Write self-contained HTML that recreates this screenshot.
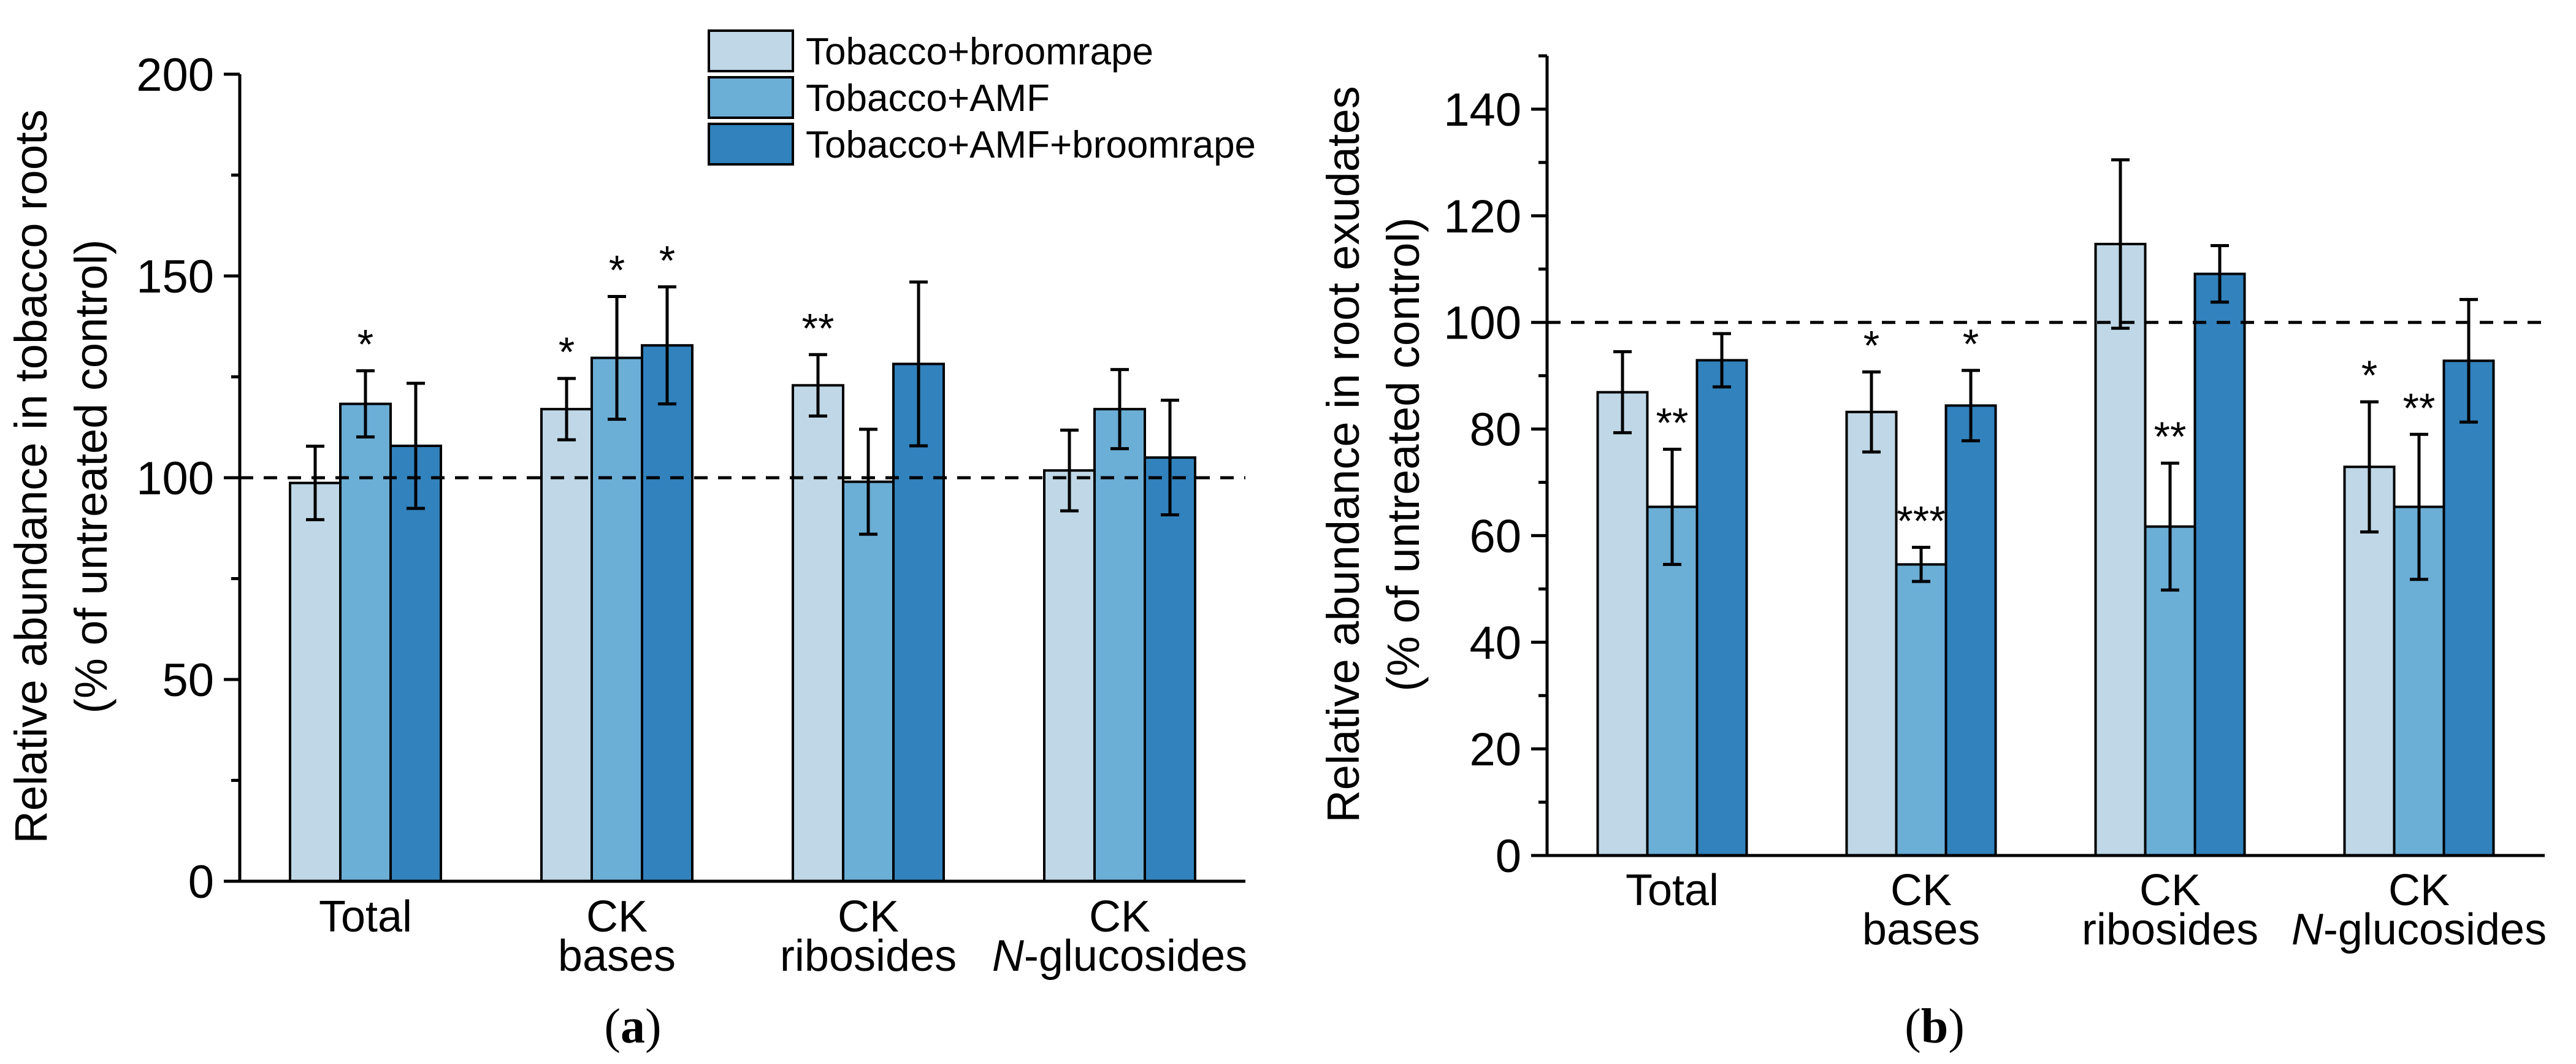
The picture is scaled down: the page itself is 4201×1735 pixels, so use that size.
<!DOCTYPE html>
<html><head><meta charset="utf-8"><style>
html,body{margin:0;padding:0;background:#fff}
svg{display:block}
text{font-family:"Liberation Sans",Arial,sans-serif;fill:#000}
</style></head><body>
<svg id="fig" width="4201" height="1735" viewBox="0 0 4201 1735" xmlns="http://www.w3.org/2000/svg">
<g id="panelA"></g>
<g id="panelB"></g>
<g id="legend"></g>
</svg>
<script>
// ---- data ----
const categories = ["Total", "CK|bases", "CK|ribosides", "CK|N-glucosides"];
const seriesNames = ["Tobacco+broomrape", "Tobacco+AMF", "Tobacco+AMF+broomrape"];
const seriesColors = ["#BFD7E6", "#6BAED6", "#3182BD"];

// panel a (roots)
const aBroomrape = [98.7, 117.0, 122.9, 101.8];
const aBroomrapeErr = [9.1, 7.6, 7.6, 10.0];
const aAMF = [118.3, 129.7, 99.0, 117.0];
const aAMFErr = [8.2, 15.2, 13.0, 9.8];
const aAMFBroomrape = [107.9, 132.8, 128.2, 105.0];
const aAMFBroomrapeErr = [15.5, 14.5, 20.3, 14.2];
const aStars = [["", "*", ""], ["*", "*", "*"], ["**", "", ""], ["", "", ""]];
const aTicks = [0, 50, 100, 150, 200];

// panel b (exudates)
const bBroomrape = [86.9, 83.2, 114.7, 72.9];
const bBroomrapeErr = [7.6, 7.5, 15.8, 12.2];
const bAMF = [65.4, 54.6, 61.7, 65.4];
const bAMFErr = [10.8, 3.2, 11.9, 13.6];
const bAMFBroomrape = [92.9, 84.4, 109.1, 92.8];
const bAMFBroomrapeErr = [5.0, 6.6, 5.3, 11.5];
const bStars = [["", "**", ""], ["*", "***", "*"], ["", "**", ""], ["*", "**", ""]];
const bTicks = [0, 20, 40, 60, 80, 100, 120, 140];

const NS = "http://www.w3.org/2000/svg";
function mk(parent, tag, attrs, txt) {
  const e = document.createElementNS(NS, tag);
  for (const k in attrs) e.setAttribute(k, attrs[k]);
  if (txt !== undefined) e.textContent = txt;
  parent.appendChild(e);
  return e;
}

function drawPanel(g, cfg) {
  const y = v => cfg.y0 - (v - 0) / cfg.ymax * (cfg.y0 - cfg.yTop);
  const series = [cfg.s1, cfg.s2, cfg.s3];
  const errs = [cfg.e1, cfg.e2, cfg.e3];
  categories.forEach((c, ci) => {
    const cx = cfg.firstCenter + ci * cfg.spacing;
    series.forEach((s, si) => {
      const x = cx + (si - 1.5) * cfg.bw;
      const r = mk(g, "rect", {x: x, y: y(s[ci]), width: cfg.bw, height: cfg.y0 - y(s[ci]), fill: seriesColors[si], stroke: "#000", "stroke-width": 4});
      
      
    });
  });
  const dl = mk(g, "line", {x1: cfg.ax, x2: cfg.axEnd, y1: y(100), y2: y(100), stroke: "#000", "stroke-width": 5, "stroke-dasharray": "22,17"});
  
  
  categories.forEach((c, ci) => {
    const cx = cfg.firstCenter + ci * cfg.spacing;
    series.forEach((s, si) => {
      const xm = cx + (si - 1) * cfg.bw;
      const hi = y(s[ci] + errs[si][ci]), lo = y(s[ci] - errs[si][ci]);
      const eb = mk(g, "path", {d: `M${xm},${hi}V${lo}M${xm-15},${hi}H${xm+15}M${xm-15},${lo}H${xm+15}`, stroke: "#000", "stroke-width": 5, fill: "none"});
      
      
      const st = cfg.stars[ci][si];
      if (st) {
        const t = mk(g, "text", {x: xm, y: hi - 20, "text-anchor": "middle", "font-size": 68}, st);
        
        
      }
    });
  });
  const ax = mk(g, "path", {d: `M${cfg.ax},${cfg.yTopAxis}V${cfg.y0}H${cfg.axEnd}`, stroke: "#000", "stroke-width": 5, fill: "none"});
  
  
  const step = cfg.ticks[1] - cfg.ticks[0];
  for (let v = 0; v <= cfg.axisMax + 0.001; v += step / 2) {
    const major = cfg.ticks.includes(v);
    const tk = mk(g, "line", {x1: cfg.ax - (major ? 26 : 14), x2: cfg.ax, y1: y(v), y2: y(v), stroke: "#000", "stroke-width": 5});
    
    
  }
  cfg.ticks.forEach(v => {
    const t = mk(g, "text", {x: cfg.ax - 42, y: y(v) + 27, "text-anchor": "end", "font-size": 76}, String(v));
    
    
  });
  categories.forEach((c, ci) => {
    const cx = cfg.firstCenter + ci * cfg.spacing;
    const parts = c.split("|");
    parts.forEach((p, li) => {
      const t = mk(g, "text", {x: cx, y: cfg.catY + li * 64, "text-anchor": "middle", "font-size": 72});
      if (p.startsWith("N-")) {
        mk(t, "tspan", {"font-style": "italic"}, "N");
        mk(t, "tspan", {}, p.slice(1));
      } else t.textContent = p;
      
      
    });
  });
  cfg.title.forEach((line, li) => {
    const tx = cfg.titleX + li * 98;
    const t = mk(g, "text", {x: tx, y: cfg.titleY, transform: `rotate(-90 ${tx} ${cfg.titleY})`, "text-anchor": "middle", "font-size": 74}, line);
    
    
  });
  const pl = mk(g, "text", {x: cfg.labelX, y: 1700, "text-anchor": "middle", "font-size": 80, style: "font-family:'Liberation Serif',serif"});
  mk(pl, "tspan", {}, "(");
  mk(pl, "tspan", {"font-weight": "bold"}, cfg.label);
  mk(pl, "tspan", {}, ")");
  
  
}

drawPanel(document.getElementById("panelA"), {
  y0: 1437, yTop: 121, ymax: 200, axisMax: 200, yTopAxis: 121,
  ax: 391, axEnd: 2031, firstCenter: 596, spacing: 410, bw: 82,
  s1: aBroomrape, s2: aAMF, s3: aAMFBroomrape, e1: aBroomrapeErr, e2: aAMFErr, e3: aAMFBroomrapeErr,
  stars: aStars, ticks: aTicks, catY: 1519,
  title: ["Relative abundance in tobacco roots", "(% of untreated control)"],
  titleX: 76, titleY: 777, labelX: 1032, label: "a"
});
drawPanel(document.getElementById("panelB"), {
  y0: 1395, yTop: 178, ymax: 140, axisMax: 150, yTopAxis: 91,
  ax: 2523, axEnd: 4150, firstCenter: 2727, spacing: 406, bw: 81,
  s1: bBroomrape, s2: bAMF, s3: bAMFBroomrape, e1: bBroomrapeErr, e2: bAMFErr, e3: bAMFBroomrapeErr,
  stars: bStars, ticks: bTicks, catY: 1476,
  title: ["Relative abundance in root exudates", "(% of untreated control)"],
  titleX: 2216, titleY: 741, labelX: 3155, label: "b"
});

const lg = document.getElementById("legend");
seriesNames.forEach((n, i) => {
  const yy = 50 + i * 76;
  const r = mk(lg, "rect", {x: 1156, y: yy, width: 137, height: 66, fill: seriesColors[i], stroke: "#000", "stroke-width": 4});
  
  
  const t = mk(lg, "text", {x: 1314, y: yy + 55, "font-size": 62}, n);
  
  
});
</script>
</body></html>
